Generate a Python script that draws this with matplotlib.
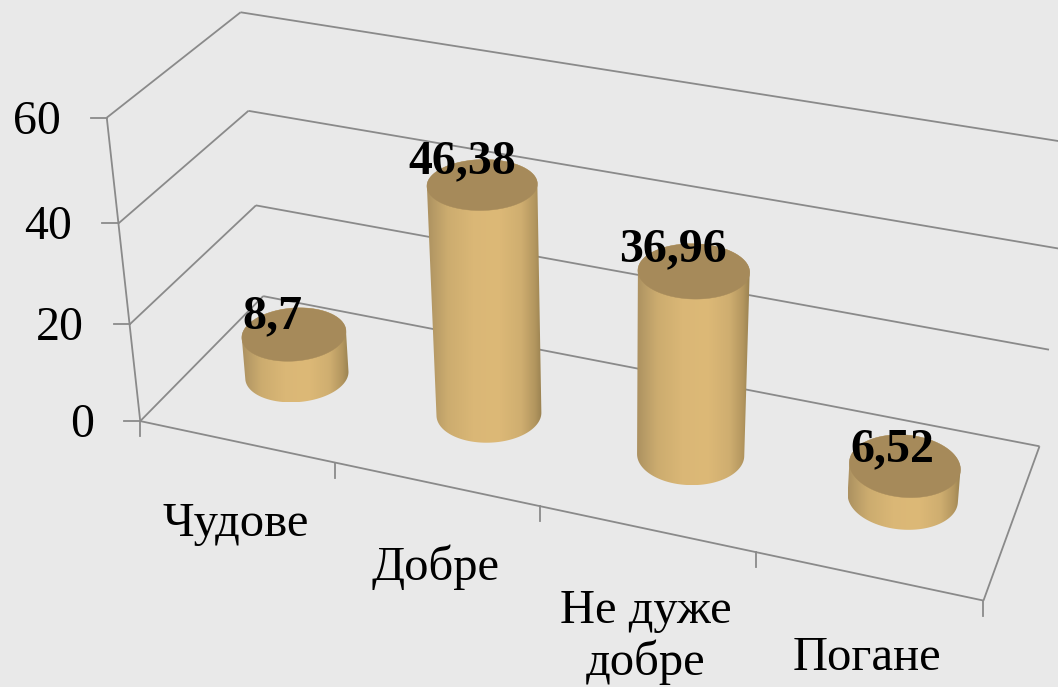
import numpy as np
import matplotlib
matplotlib.use("Agg")
import matplotlib.pyplot as plt
from matplotlib.colors import LinearSegmentedColormap
from matplotlib.patches import Polygon

categories = ["Чудове", "Добре", "Не дуже\nдобре", "Погане"]
values = [8.7, 46.38, 36.96, 6.52]
value_labels = ["8,7", "46,38", "36,96", "6,52"]
y_ticks = [0, 20, 40, 60]

W, H = 1058, 687
BG = "#E9E9E9"
LINE = "#8A8A8A"
CAP = "#A68A5A"
FONT = "Liberation Serif"
label_dx = [-22, -20, -21, -13]
label_dy = [8, 2, 6, 15]
R_U, R_W = 0.0615, 0.20

# Perspective scale: (category fraction u, value v, depth w) -> pixel, calibrated on the chart box
box = [
    ((0, 0, 0), (142, 422)), ((0, 20, 0), (131, 324)), ((0, 40, 0), (119, 222)), ((0, 60, 0), (106, 116)),
    ((0, 0, 1), (262, 297)), ((0, 20, 1), (257, 207)), ((0, 40, 1), (248, 111)), ((0, 60, 1), (240, 11)),
    ((1, 0, 0), (984, 601)), ((1, 0, 1), (1038, 445)), ((1, 20, 1), (1052, 347)),
    ((1, 40, 1), (1060, 243)), ((1, 60, 1), (1068, 151)),
    ((.25, 0, 0), (334, 463)), ((.5, 0, 0), (538, 507)), ((.75, 0, 0), (755, 553)),
]
A, b = [], []
for (u, v, w), (x, y) in box:
    A.append([u, v, w, 1, 0, 0, 0, 0, -x * u, -x * v, -x * w])
    b.append(x)
    A.append([0, 0, 0, 0, u, v, w, 1, -y * u, -y * v, -y * w])
    b.append(y)
p = np.linalg.lstsq(np.array(A, float), np.array(b, float), rcond=None)[0]
M = np.append(p, 1.0).reshape(3, 4)


def proj(u, v, w):
    u, v, w = np.broadcast_arrays(np.asarray(u, float), np.asarray(v, float), np.asarray(w, float))
    h = M @ np.stack([u, v, w, np.ones_like(u)])
    return h[0] / h[2], h[1] / h[2]


def hull(pts):
    pts = sorted(map(tuple, pts))
    def half(seq):
        out = []
        for q in seq:
            while len(out) > 1 and ((out[-1][0] - out[-2][0]) * (q[1] - out[-2][1])
                                    - (out[-1][1] - out[-2][1]) * (q[0] - out[-2][0])) <= 0:
                out.pop()
            out.append(q)
        return out[:-1]
    return np.array(half(pts) + half(pts[::-1]))


fig = plt.figure(figsize=(W / 100, H / 100), dpi=100, facecolor=BG)
ax = fig.add_axes([0, 0, 1, 1])
ax.set_facecolor(BG)
ax.axis("off")


def seg(a, c):
    xa, ya = proj(*a)
    xc, yc = proj(*c)
    ax.plot([xa, xc], [ya, yc], color=LINE, lw=1.3, solid_capstyle="butt", zorder=1)


for t in y_ticks:
    seg((0, t, 0), (0, t, 1))
    seg((0, t, 1), (1, t, 1))
    x0, y0 = proj(0, t, 0)
    ax.plot([x0 - 16, x0], [y0, y0], color=LINE, lw=1.3, zorder=1)
    ax.text(x0 - 46, y0 + 4, str(t), ha="right", va="center", family=FONT, fontsize=34.5, color="black")
seg((0, 0, 0), (0, 60, 0))
seg((0, 0, 0), (1, 0, 0))
seg((1, 0, 0), (1, 0, 1))
for u in np.arange(0, 5) / 4:
    x0, y0 = proj(u, 0, 0)
    ax.plot([x0, x0], [y0, y0 + 15], color=LINE, lw=1.3, zorder=1)

cmap = LinearSegmentedColormap.from_list("cyl", [
    (0.0, "#AC9160"), (0.06, "#B79B66"), (0.18, "#CCAC6F"), (0.4, "#DAB776"), (0.62, "#DDB977"),
    (0.82, "#CFAE70"), (0.94, "#B3965F"), (1.0, "#9A8251")])
t = np.linspace(0, 2 * np.pi, 180)
n = len(categories)
for i, val in enumerate(values):
    cu = (i + 0.5) / n
    uc = cu + R_U * np.cos(t)
    wc = 0.5 + R_W * np.sin(t)
    xb, yb = proj(uc, 0.0, wc)
    xt, yt = proj(uc, val, wc)
    h = hull(np.r_[np.c_[xb, yb], np.c_[xt, yt]])
    poly = Polygon(h, closed=True, fc="none", ec="none", transform=ax.transData)
    ax.add_patch(poly)
    im = ax.imshow(np.linspace(0, 1, 256)[None, :], cmap=cmap, aspect="auto", zorder=2,
                   extent=(h[:, 0].min(), h[:, 0].max(), h[:, 1].max(), h[:, 1].min()))
    im.set_clip_path(poly)
    ax.add_patch(Polygon(np.c_[xt, yt], closed=True, fc=CAP, ec=CAP, lw=0.3, zorder=3))
    ax.text(xt.mean() + label_dx[i], yt.min() + label_dy[i], value_labels[i], ha="center", va="center",
            family=FONT, fontsize=34.5, fontweight="bold", color="black", zorder=5)
    xf, yf = proj(cu, 0, 0)
    ax.text(xf - 1, yf + 60, categories[i], ha="center", va="top", family=FONT, fontsize=35,
            color="black", linespacing=1.2)

ax.set_xlim(0, W)
ax.set_ylim(H, 0)
fig.savefig("out.png", dpi=100, facecolor=BG)
